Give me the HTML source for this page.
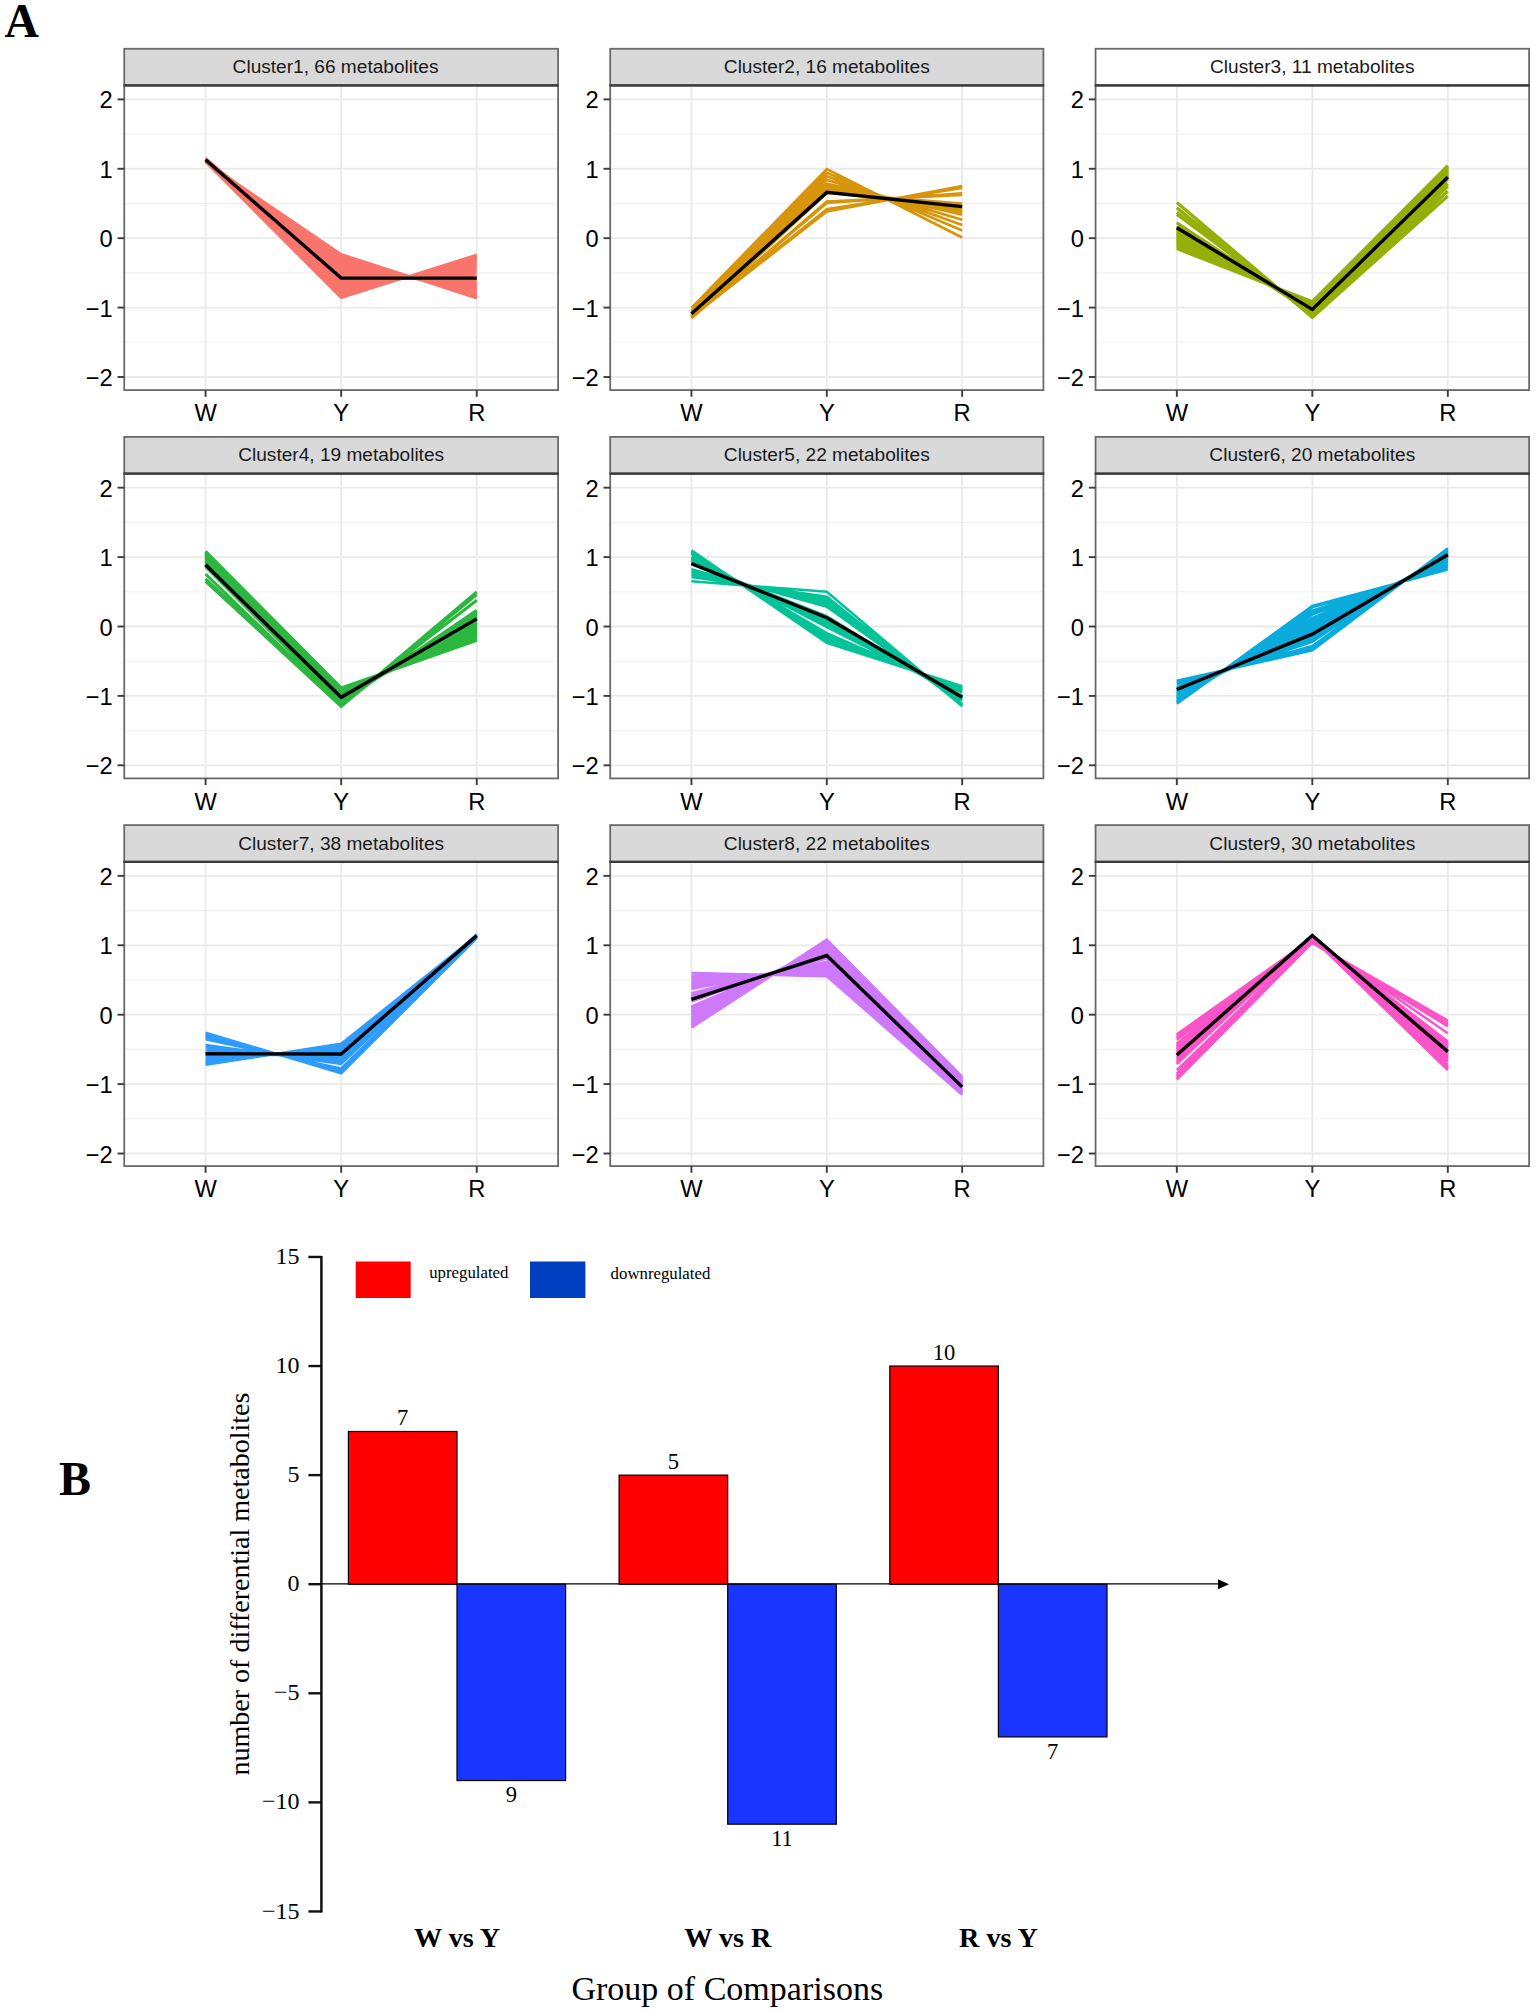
<!DOCTYPE html>
<html lang="en"><head><meta charset="utf-8"><title>Figure</title>
<style>html,body{margin:0;padding:0;background:#fff}svg{display:block}</style></head>
<body>
<svg width="1535" height="2014" viewBox="0 0 1535 2014">
<rect width="100%" height="100%" fill="#fff"/>
<g>
<line x1="124.24" x2="558.1" y1="342.3" y2="342.3" stroke="#f0f0f0" stroke-width="1.1"/>
<line x1="124.24" x2="558.1" y1="272.88" y2="272.88" stroke="#f0f0f0" stroke-width="1.1"/>
<line x1="124.24" x2="558.1" y1="203.48" y2="203.48" stroke="#f0f0f0" stroke-width="1.1"/>
<line x1="124.24" x2="558.1" y1="134.06" y2="134.06" stroke="#f0f0f0" stroke-width="1.1"/>
<line x1="124.24" x2="558.1" y1="377" y2="377" stroke="#eaeaea" stroke-width="1.8"/>
<line x1="124.24" x2="558.1" y1="307.59" y2="307.59" stroke="#eaeaea" stroke-width="1.8"/>
<line x1="124.24" x2="558.1" y1="238.18" y2="238.18" stroke="#eaeaea" stroke-width="1.8"/>
<line x1="124.24" x2="558.1" y1="168.77" y2="168.77" stroke="#eaeaea" stroke-width="1.8"/>
<line x1="124.24" x2="558.1" y1="99.36" y2="99.36" stroke="#eaeaea" stroke-width="1.8"/>
<line x1="205.59" x2="205.59" y1="85.47" y2="390.1" stroke="#eaeaea" stroke-width="1.8"/>
<line x1="341.17" x2="341.17" y1="85.47" y2="390.1" stroke="#eaeaea" stroke-width="1.8"/>
<line x1="476.75" x2="476.75" y1="85.47" y2="390.1" stroke="#eaeaea" stroke-width="1.8"/>
<path d="M205.59 161.95 L341.17 297.74 L476.75 254.84 M205.59 161.66 L341.17 297.08 L476.75 255.81 M205.59 161.37 L341.17 296.4 L476.75 256.77 M205.59 161.09 L341.17 295.72 L476.75 257.73 M205.59 160.83 L341.17 295.02 L476.75 258.69 M205.59 160.57 L341.17 294.32 L476.75 259.64 M205.59 160.33 L341.17 293.61 L476.75 260.59 M205.59 160.1 L341.17 292.9 L476.75 261.54 M205.59 159.89 L341.17 292.17 L476.75 262.49 M205.59 159.68 L341.17 291.43 L476.75 263.43 M205.59 159.49 L341.17 290.69 L476.75 264.36 M205.59 159.31 L341.17 289.94 L476.75 265.29 M205.59 159.14 L341.17 289.18 L476.75 266.22 M205.59 158.98 L341.17 288.42 L476.75 267.15 M205.59 158.83 L341.17 287.64 L476.75 268.07 M205.59 158.7 L341.17 286.86 L476.75 268.98 M205.59 158.41 L341.17 284.84 L476.75 271.29 M205.59 158.32 L341.17 284.03 L476.75 272.19 M205.59 158.25 L341.17 283.21 L476.75 273.08 M205.59 158.18 L341.17 282.39 L476.75 273.97 M205.59 158.13 L341.17 281.56 L476.75 274.86 M205.59 158.08 L341.17 280.72 L476.75 275.73 M205.59 158.05 L341.17 279.88 L476.75 276.61 M205.59 158.04 L341.17 279.03 L476.75 277.47 M205.59 158.03 L341.17 278.18 L476.75 278.33 M205.59 158.04 L341.17 277.32 L476.75 279.19 M205.59 158.06 L341.17 276.45 L476.75 280.03 M205.59 158.09 L341.17 275.57 L476.75 280.87 M205.59 158.13 L341.17 274.7 L476.75 281.71 M205.59 158.19 L341.17 273.81 L476.75 282.54 M205.59 158.26 L341.17 272.92 L476.75 283.36 M205.59 158.34 L341.17 272.03 L476.75 284.17 M205.59 158.43 L341.17 271.13 L476.75 284.98 M205.59 158.54 L341.17 270.22 L476.75 285.78 M205.59 158.65 L341.17 269.31 L476.75 286.57 M205.59 158.78 L341.17 268.4 L476.75 287.36 M205.59 158.93 L341.17 267.48 L476.75 288.14 M205.59 159.08 L341.17 266.55 L476.75 288.91 M205.59 159.24 L341.17 265.62 L476.75 289.67 M205.59 159.42 L341.17 264.69 L476.75 290.43 M205.59 159.61 L341.17 263.75 L476.75 291.17 M205.59 159.81 L341.17 262.81 L476.75 291.91 M205.59 160.38 L341.17 260.41 L476.75 293.75 M205.59 160.61 L341.17 259.52 L476.75 294.41 M205.59 160.84 L341.17 258.63 L476.75 295.06 M205.59 161.09 L341.17 257.74 L476.75 295.71 M205.59 161.34 L341.17 256.85 L476.75 296.34 M205.59 161.61 L341.17 255.96 L476.75 296.97 M205.59 161.89 L341.17 255.06 L476.75 297.59 M205.59 162.17 L341.17 254.16 L476.75 298.21" fill="none" stroke="#F9746B" stroke-width="2.5" stroke-linejoin="miter"/>
<path d="M205.59 159.75 L341.17 278.09 L476.75 278.09" fill="none" stroke="#000" stroke-width="3.4" stroke-linejoin="miter"/>
<rect x="124.24" y="48.77" width="433.86" height="36.7" fill="#d9d9d9" stroke="#6a6a6a" stroke-width="1.8"/>
<rect x="124.24" y="85.47" width="433.86" height="304.63" fill="none" stroke="#6a6a6a" stroke-width="1.8"/>
<line x1="123.54" x2="558.8" y1="85.47" y2="85.47" stroke="#3a3a3a" stroke-width="2.2"/>
<text x="335.57" y="73.27" text-anchor="middle" font-family="Liberation Sans, sans-serif" font-size="19.1" fill="#1a1a1a">Cluster1, 66 metabolites</text>
<line x1="117.54" x2="124.24" y1="377" y2="377" stroke="#3c3c3c" stroke-width="1.9"/>
<text x="112.74" y="386" text-anchor="end" font-family="Liberation Sans, sans-serif" font-size="23.7" fill="#000">−2</text>
<line x1="117.54" x2="124.24" y1="307.59" y2="307.59" stroke="#3c3c3c" stroke-width="1.9"/>
<text x="112.74" y="316.59" text-anchor="end" font-family="Liberation Sans, sans-serif" font-size="23.7" fill="#000">−1</text>
<line x1="117.54" x2="124.24" y1="238.18" y2="238.18" stroke="#3c3c3c" stroke-width="1.9"/>
<text x="112.74" y="247.18" text-anchor="end" font-family="Liberation Sans, sans-serif" font-size="23.7" fill="#000">0</text>
<line x1="117.54" x2="124.24" y1="168.77" y2="168.77" stroke="#3c3c3c" stroke-width="1.9"/>
<text x="112.74" y="177.77" text-anchor="end" font-family="Liberation Sans, sans-serif" font-size="23.7" fill="#000">1</text>
<line x1="117.54" x2="124.24" y1="99.36" y2="99.36" stroke="#3c3c3c" stroke-width="1.9"/>
<text x="112.74" y="108.36" text-anchor="end" font-family="Liberation Sans, sans-serif" font-size="23.7" fill="#000">2</text>
<line x1="205.59" x2="205.59" y1="390.1" y2="396.8" stroke="#3c3c3c" stroke-width="1.9"/>
<text x="205.59" y="421.3" text-anchor="middle" font-family="Liberation Sans, sans-serif" font-size="23.7" fill="#000">W</text>
<line x1="341.17" x2="341.17" y1="390.1" y2="396.8" stroke="#3c3c3c" stroke-width="1.9"/>
<text x="341.17" y="421.3" text-anchor="middle" font-family="Liberation Sans, sans-serif" font-size="23.7" fill="#000">Y</text>
<line x1="476.75" x2="476.75" y1="390.1" y2="396.8" stroke="#3c3c3c" stroke-width="1.9"/>
<text x="476.75" y="421.3" text-anchor="middle" font-family="Liberation Sans, sans-serif" font-size="23.7" fill="#000">R</text>
</g>
<g>
<line x1="610.2" x2="1043.4" y1="342.3" y2="342.3" stroke="#f0f0f0" stroke-width="1.1"/>
<line x1="610.2" x2="1043.4" y1="272.88" y2="272.88" stroke="#f0f0f0" stroke-width="1.1"/>
<line x1="610.2" x2="1043.4" y1="203.48" y2="203.48" stroke="#f0f0f0" stroke-width="1.1"/>
<line x1="610.2" x2="1043.4" y1="134.06" y2="134.06" stroke="#f0f0f0" stroke-width="1.1"/>
<line x1="610.2" x2="1043.4" y1="377" y2="377" stroke="#eaeaea" stroke-width="1.8"/>
<line x1="610.2" x2="1043.4" y1="307.59" y2="307.59" stroke="#eaeaea" stroke-width="1.8"/>
<line x1="610.2" x2="1043.4" y1="238.18" y2="238.18" stroke="#eaeaea" stroke-width="1.8"/>
<line x1="610.2" x2="1043.4" y1="168.77" y2="168.77" stroke="#eaeaea" stroke-width="1.8"/>
<line x1="610.2" x2="1043.4" y1="99.36" y2="99.36" stroke="#eaeaea" stroke-width="1.8"/>
<line x1="691.43" x2="691.43" y1="85.47" y2="390.1" stroke="#eaeaea" stroke-width="1.8"/>
<line x1="826.8" x2="826.8" y1="85.47" y2="390.1" stroke="#eaeaea" stroke-width="1.8"/>
<line x1="962.17" x2="962.17" y1="85.47" y2="390.1" stroke="#eaeaea" stroke-width="1.8"/>
<path d="M691.43 316.98 L826.8 211.43 L962.17 186.12 M691.43 317.36 L826.8 209.32 L962.17 187.86 M691.43 318.14 L826.8 202.99 L962.17 193.41 M691.43 318.23 L826.8 201.51 L962.17 194.8 M691.43 318.1 L826.8 192.97 L962.17 203.48 M691.43 317.98 L826.8 191.85 L962.17 204.71 M691.43 317.85 L826.8 190.75 L962.17 205.94 M691.43 317.69 L826.8 189.67 L962.17 207.18 M691.43 317.51 L826.8 188.62 L962.17 208.41 M691.43 317.31 L826.8 187.59 L962.17 209.64 M691.43 317.09 L826.8 186.57 L962.17 210.88 M691.43 316.85 L826.8 185.58 L962.17 212.11 M691.43 316.59 L826.8 184.6 L962.17 213.35 M691.43 316.31 L826.8 183.65 L962.17 214.58 M691.43 314.95 L826.8 179.87 L962.17 219.72 M691.43 313.26 L826.8 176.35 L962.17 224.92 M691.43 311.06 L826.8 172.86 L962.17 230.61 M691.43 307.93 L826.8 169.12 L962.17 237.49" fill="none" stroke="#D6950A" stroke-width="2.7" stroke-linejoin="miter"/>
<path d="M691.43 313.84 L826.8 192.37 L962.17 206.67" fill="none" stroke="#000" stroke-width="3.4" stroke-linejoin="miter"/>
<rect x="610.2" y="48.77" width="433.2" height="36.7" fill="#d9d9d9" stroke="#6a6a6a" stroke-width="1.8"/>
<rect x="610.2" y="85.47" width="433.2" height="304.63" fill="none" stroke="#6a6a6a" stroke-width="1.8"/>
<line x1="609.5" x2="1044.1" y1="85.47" y2="85.47" stroke="#3a3a3a" stroke-width="2.2"/>
<text x="826.8" y="73.27" text-anchor="middle" font-family="Liberation Sans, sans-serif" font-size="19.1" fill="#1a1a1a">Cluster2, 16 metabolites</text>
<line x1="603.5" x2="610.2" y1="377" y2="377" stroke="#3c3c3c" stroke-width="1.9"/>
<text x="598.7" y="386" text-anchor="end" font-family="Liberation Sans, sans-serif" font-size="23.7" fill="#000">−2</text>
<line x1="603.5" x2="610.2" y1="307.59" y2="307.59" stroke="#3c3c3c" stroke-width="1.9"/>
<text x="598.7" y="316.59" text-anchor="end" font-family="Liberation Sans, sans-serif" font-size="23.7" fill="#000">−1</text>
<line x1="603.5" x2="610.2" y1="238.18" y2="238.18" stroke="#3c3c3c" stroke-width="1.9"/>
<text x="598.7" y="247.18" text-anchor="end" font-family="Liberation Sans, sans-serif" font-size="23.7" fill="#000">0</text>
<line x1="603.5" x2="610.2" y1="168.77" y2="168.77" stroke="#3c3c3c" stroke-width="1.9"/>
<text x="598.7" y="177.77" text-anchor="end" font-family="Liberation Sans, sans-serif" font-size="23.7" fill="#000">1</text>
<line x1="603.5" x2="610.2" y1="99.36" y2="99.36" stroke="#3c3c3c" stroke-width="1.9"/>
<text x="598.7" y="108.36" text-anchor="end" font-family="Liberation Sans, sans-serif" font-size="23.7" fill="#000">2</text>
<line x1="691.43" x2="691.43" y1="390.1" y2="396.8" stroke="#3c3c3c" stroke-width="1.9"/>
<text x="691.43" y="421.3" text-anchor="middle" font-family="Liberation Sans, sans-serif" font-size="23.7" fill="#000">W</text>
<line x1="826.8" x2="826.8" y1="390.1" y2="396.8" stroke="#3c3c3c" stroke-width="1.9"/>
<text x="826.8" y="421.3" text-anchor="middle" font-family="Liberation Sans, sans-serif" font-size="23.7" fill="#000">Y</text>
<line x1="962.17" x2="962.17" y1="390.1" y2="396.8" stroke="#3c3c3c" stroke-width="1.9"/>
<text x="962.17" y="421.3" text-anchor="middle" font-family="Liberation Sans, sans-serif" font-size="23.7" fill="#000">R</text>
</g>
<g>
<line x1="1095.55" x2="1529.1" y1="342.3" y2="342.3" stroke="#f0f0f0" stroke-width="1.1"/>
<line x1="1095.55" x2="1529.1" y1="272.88" y2="272.88" stroke="#f0f0f0" stroke-width="1.1"/>
<line x1="1095.55" x2="1529.1" y1="203.48" y2="203.48" stroke="#f0f0f0" stroke-width="1.1"/>
<line x1="1095.55" x2="1529.1" y1="134.06" y2="134.06" stroke="#f0f0f0" stroke-width="1.1"/>
<line x1="1095.55" x2="1529.1" y1="377" y2="377" stroke="#eaeaea" stroke-width="1.8"/>
<line x1="1095.55" x2="1529.1" y1="307.59" y2="307.59" stroke="#eaeaea" stroke-width="1.8"/>
<line x1="1095.55" x2="1529.1" y1="238.18" y2="238.18" stroke="#eaeaea" stroke-width="1.8"/>
<line x1="1095.55" x2="1529.1" y1="168.77" y2="168.77" stroke="#eaeaea" stroke-width="1.8"/>
<line x1="1095.55" x2="1529.1" y1="99.36" y2="99.36" stroke="#eaeaea" stroke-width="1.8"/>
<line x1="1176.84" x2="1176.84" y1="85.47" y2="390.1" stroke="#eaeaea" stroke-width="1.8"/>
<line x1="1312.33" x2="1312.33" y1="85.47" y2="390.1" stroke="#eaeaea" stroke-width="1.8"/>
<line x1="1447.81" x2="1447.81" y1="85.47" y2="390.1" stroke="#eaeaea" stroke-width="1.8"/>
<path d="M1176.84 202.43 L1312.33 317.31 L1447.81 195.98 M1176.84 207.64 L1312.33 316.96 L1447.81 190.98 M1176.84 212.36 L1312.33 315.92 L1447.81 186.12 M1176.84 214.23 L1312.33 315.23 L1447.81 183.69 M1176.84 222.77 L1312.33 312.8 L1447.81 179.18 M1176.84 226.38 L1312.33 312.45 L1447.81 177.79 M1176.84 227.35 L1312.33 311.98 L1447.81 177.27 M1176.84 228.31 L1312.33 311.51 L1447.81 176.74 M1176.84 229.28 L1312.33 311.05 L1447.81 176.21 M1176.84 230.24 L1312.33 310.58 L1447.81 175.68 M1176.84 231.21 L1312.33 310.11 L1447.81 175.15 M1176.84 232.17 L1312.33 309.64 L1447.81 174.62 M1176.84 233.14 L1312.33 309.17 L1447.81 174.1 M1176.84 234.11 L1312.33 308.71 L1447.81 173.57 M1176.84 235.07 L1312.33 308.24 L1447.81 173.04 M1176.84 236.04 L1312.33 307.77 L1447.81 172.51 M1176.84 237 L1312.33 307.3 L1447.81 171.98 M1176.84 237.97 L1312.33 306.84 L1447.81 171.46 M1176.84 238.93 L1312.33 306.37 L1447.81 170.93 M1176.84 239.9 L1312.33 305.9 L1447.81 170.4 M1176.84 240.87 L1312.33 305.43 L1447.81 169.87 M1176.84 241.83 L1312.33 304.96 L1447.81 169.34 M1176.84 242.8 L1312.33 304.5 L1447.81 168.82 M1176.84 243.76 L1312.33 304.03 L1447.81 168.29 M1176.84 244.73 L1312.33 303.56 L1447.81 167.76 M1176.84 245.69 L1312.33 303.09 L1447.81 167.23 M1176.84 246.66 L1312.33 302.63 L1447.81 166.7 M1176.84 247.63 L1312.33 302.16 L1447.81 166.17 M1176.84 248.59 L1312.33 301.69 L1447.81 165.65" fill="none" stroke="#95AE08" stroke-width="3.2" stroke-linejoin="miter"/>
<path d="M1176.84 227.77 L1312.33 309.39 L1447.81 177.1" fill="none" stroke="#000" stroke-width="3.4" stroke-linejoin="miter"/>
<rect x="1095.55" y="48.77" width="433.55" height="36.7" fill="#fff" stroke="#6a6a6a" stroke-width="1.8"/>
<rect x="1095.55" y="85.47" width="433.55" height="304.63" fill="none" stroke="#6a6a6a" stroke-width="1.8"/>
<line x1="1094.85" x2="1529.8" y1="85.47" y2="85.47" stroke="#3a3a3a" stroke-width="2.2"/>
<text x="1312.32" y="73.27" text-anchor="middle" font-family="Liberation Sans, sans-serif" font-size="19.1" fill="#1a1a1a">Cluster3, 11 metabolites</text>
<line x1="1088.85" x2="1095.55" y1="377" y2="377" stroke="#3c3c3c" stroke-width="1.9"/>
<text x="1084.05" y="386" text-anchor="end" font-family="Liberation Sans, sans-serif" font-size="23.7" fill="#000">−2</text>
<line x1="1088.85" x2="1095.55" y1="307.59" y2="307.59" stroke="#3c3c3c" stroke-width="1.9"/>
<text x="1084.05" y="316.59" text-anchor="end" font-family="Liberation Sans, sans-serif" font-size="23.7" fill="#000">−1</text>
<line x1="1088.85" x2="1095.55" y1="238.18" y2="238.18" stroke="#3c3c3c" stroke-width="1.9"/>
<text x="1084.05" y="247.18" text-anchor="end" font-family="Liberation Sans, sans-serif" font-size="23.7" fill="#000">0</text>
<line x1="1088.85" x2="1095.55" y1="168.77" y2="168.77" stroke="#3c3c3c" stroke-width="1.9"/>
<text x="1084.05" y="177.77" text-anchor="end" font-family="Liberation Sans, sans-serif" font-size="23.7" fill="#000">1</text>
<line x1="1088.85" x2="1095.55" y1="99.36" y2="99.36" stroke="#3c3c3c" stroke-width="1.9"/>
<text x="1084.05" y="108.36" text-anchor="end" font-family="Liberation Sans, sans-serif" font-size="23.7" fill="#000">2</text>
<line x1="1176.84" x2="1176.84" y1="390.1" y2="396.8" stroke="#3c3c3c" stroke-width="1.9"/>
<text x="1176.84" y="421.3" text-anchor="middle" font-family="Liberation Sans, sans-serif" font-size="23.7" fill="#000">W</text>
<line x1="1312.33" x2="1312.33" y1="390.1" y2="396.8" stroke="#3c3c3c" stroke-width="1.9"/>
<text x="1312.33" y="421.3" text-anchor="middle" font-family="Liberation Sans, sans-serif" font-size="23.7" fill="#000">Y</text>
<line x1="1447.81" x2="1447.81" y1="390.1" y2="396.8" stroke="#3c3c3c" stroke-width="1.9"/>
<text x="1447.81" y="421.3" text-anchor="middle" font-family="Liberation Sans, sans-serif" font-size="23.7" fill="#000">R</text>
</g>
<g>
<line x1="124.24" x2="558.1" y1="730.62" y2="730.62" stroke="#f0f0f0" stroke-width="1.1"/>
<line x1="124.24" x2="558.1" y1="661.21" y2="661.21" stroke="#f0f0f0" stroke-width="1.1"/>
<line x1="124.24" x2="558.1" y1="591.79" y2="591.79" stroke="#f0f0f0" stroke-width="1.1"/>
<line x1="124.24" x2="558.1" y1="522.38" y2="522.38" stroke="#f0f0f0" stroke-width="1.1"/>
<line x1="124.24" x2="558.1" y1="765.32" y2="765.32" stroke="#eaeaea" stroke-width="1.8"/>
<line x1="124.24" x2="558.1" y1="695.91" y2="695.91" stroke="#eaeaea" stroke-width="1.8"/>
<line x1="124.24" x2="558.1" y1="626.5" y2="626.5" stroke="#eaeaea" stroke-width="1.8"/>
<line x1="124.24" x2="558.1" y1="557.09" y2="557.09" stroke="#eaeaea" stroke-width="1.8"/>
<line x1="124.24" x2="558.1" y1="487.68" y2="487.68" stroke="#eaeaea" stroke-width="1.8"/>
<line x1="205.59" x2="205.59" y1="473.6" y2="778.4" stroke="#eaeaea" stroke-width="1.8"/>
<line x1="341.17" x2="341.17" y1="473.6" y2="778.4" stroke="#eaeaea" stroke-width="1.8"/>
<line x1="476.75" x2="476.75" y1="473.6" y2="778.4" stroke="#eaeaea" stroke-width="1.8"/>
<path d="M205.59 581.29 L341.17 706.42 L476.75 591.79 M205.59 578.8 L341.17 706.13 L476.75 594.57 M205.59 574.03 L341.17 705.2 L476.75 600.26 M205.59 566.7 L341.17 702.61 L476.75 610.19 M205.59 566.05 L341.17 702.3 L476.75 611.15 M205.59 565.41 L341.17 701.98 L476.75 612.11 M205.59 564.78 L341.17 701.64 L476.75 613.08 M205.59 564.16 L341.17 701.29 L476.75 614.04 M205.59 563.55 L341.17 700.94 L476.75 615.01 M205.59 562.95 L341.17 700.57 L476.75 615.98 M205.59 562.36 L341.17 700.19 L476.75 616.96 M205.59 561.77 L341.17 699.8 L476.75 617.93 M205.59 561.2 L341.17 699.4 L476.75 618.9 M205.59 560.64 L341.17 698.98 L476.75 619.88 M205.59 560.08 L341.17 698.56 L476.75 620.86 M205.59 559.54 L341.17 698.12 L476.75 621.84 M205.59 559.01 L341.17 697.68 L476.75 622.81 M205.59 558.48 L341.17 697.22 L476.75 623.79 M205.59 557.97 L341.17 696.76 L476.75 624.77 M205.59 557.47 L341.17 696.28 L476.75 625.75 M205.59 556.97 L341.17 695.79 L476.75 626.73 M205.59 556.49 L341.17 695.3 L476.75 627.71 M205.59 556.02 L341.17 694.79 L476.75 628.69 M205.59 555.56 L341.17 694.27 L476.75 629.67 M205.59 555.11 L341.17 693.74 L476.75 630.65 M205.59 554.67 L341.17 693.2 L476.75 631.63 M205.59 554.24 L341.17 692.65 L476.75 632.61 M205.59 553.82 L341.17 692.1 L476.75 633.58 M205.59 553.41 L341.17 691.53 L476.75 634.56 M205.59 553.02 L341.17 690.95 L476.75 635.53 M205.59 552.63 L341.17 690.36 L476.75 636.51 M205.59 552.26 L341.17 689.77 L476.75 637.48 M205.59 551.89 L341.17 689.16 L476.75 638.45 M205.59 551.54 L341.17 688.54 L476.75 639.42 M205.59 551.2 L341.17 687.92 L476.75 640.38" fill="none" stroke="#2CB840" stroke-width="3.0" stroke-linejoin="miter"/>
<path d="M205.59 564.73 L341.17 697.3 L476.75 618.86" fill="none" stroke="#000" stroke-width="3.4" stroke-linejoin="miter"/>
<rect x="124.24" y="436.9" width="433.86" height="36.7" fill="#d9d9d9" stroke="#6a6a6a" stroke-width="1.8"/>
<rect x="124.24" y="473.6" width="433.86" height="304.8" fill="none" stroke="#6a6a6a" stroke-width="1.8"/>
<line x1="123.54" x2="558.8" y1="473.6" y2="473.6" stroke="#3a3a3a" stroke-width="2.2"/>
<text x="341.17" y="461.4" text-anchor="middle" font-family="Liberation Sans, sans-serif" font-size="19.1" fill="#1a1a1a">Cluster4, 19 metabolites</text>
<line x1="117.54" x2="124.24" y1="765.32" y2="765.32" stroke="#3c3c3c" stroke-width="1.9"/>
<text x="112.74" y="774.32" text-anchor="end" font-family="Liberation Sans, sans-serif" font-size="23.7" fill="#000">−2</text>
<line x1="117.54" x2="124.24" y1="695.91" y2="695.91" stroke="#3c3c3c" stroke-width="1.9"/>
<text x="112.74" y="704.91" text-anchor="end" font-family="Liberation Sans, sans-serif" font-size="23.7" fill="#000">−1</text>
<line x1="117.54" x2="124.24" y1="626.5" y2="626.5" stroke="#3c3c3c" stroke-width="1.9"/>
<text x="112.74" y="635.5" text-anchor="end" font-family="Liberation Sans, sans-serif" font-size="23.7" fill="#000">0</text>
<line x1="117.54" x2="124.24" y1="557.09" y2="557.09" stroke="#3c3c3c" stroke-width="1.9"/>
<text x="112.74" y="566.09" text-anchor="end" font-family="Liberation Sans, sans-serif" font-size="23.7" fill="#000">1</text>
<line x1="117.54" x2="124.24" y1="487.68" y2="487.68" stroke="#3c3c3c" stroke-width="1.9"/>
<text x="112.74" y="496.68" text-anchor="end" font-family="Liberation Sans, sans-serif" font-size="23.7" fill="#000">2</text>
<line x1="205.59" x2="205.59" y1="778.4" y2="785.1" stroke="#3c3c3c" stroke-width="1.9"/>
<text x="205.59" y="809.6" text-anchor="middle" font-family="Liberation Sans, sans-serif" font-size="23.7" fill="#000">W</text>
<line x1="341.17" x2="341.17" y1="778.4" y2="785.1" stroke="#3c3c3c" stroke-width="1.9"/>
<text x="341.17" y="809.6" text-anchor="middle" font-family="Liberation Sans, sans-serif" font-size="23.7" fill="#000">Y</text>
<line x1="476.75" x2="476.75" y1="778.4" y2="785.1" stroke="#3c3c3c" stroke-width="1.9"/>
<text x="476.75" y="809.6" text-anchor="middle" font-family="Liberation Sans, sans-serif" font-size="23.7" fill="#000">R</text>
</g>
<g>
<line x1="610.2" x2="1043.4" y1="730.62" y2="730.62" stroke="#f0f0f0" stroke-width="1.1"/>
<line x1="610.2" x2="1043.4" y1="661.21" y2="661.21" stroke="#f0f0f0" stroke-width="1.1"/>
<line x1="610.2" x2="1043.4" y1="591.79" y2="591.79" stroke="#f0f0f0" stroke-width="1.1"/>
<line x1="610.2" x2="1043.4" y1="522.38" y2="522.38" stroke="#f0f0f0" stroke-width="1.1"/>
<line x1="610.2" x2="1043.4" y1="765.32" y2="765.32" stroke="#eaeaea" stroke-width="1.8"/>
<line x1="610.2" x2="1043.4" y1="695.91" y2="695.91" stroke="#eaeaea" stroke-width="1.8"/>
<line x1="610.2" x2="1043.4" y1="626.5" y2="626.5" stroke="#eaeaea" stroke-width="1.8"/>
<line x1="610.2" x2="1043.4" y1="557.09" y2="557.09" stroke="#eaeaea" stroke-width="1.8"/>
<line x1="610.2" x2="1043.4" y1="487.68" y2="487.68" stroke="#eaeaea" stroke-width="1.8"/>
<line x1="691.43" x2="691.43" y1="473.6" y2="778.4" stroke="#eaeaea" stroke-width="1.8"/>
<line x1="826.8" x2="826.8" y1="473.6" y2="778.4" stroke="#eaeaea" stroke-width="1.8"/>
<line x1="962.17" x2="962.17" y1="473.6" y2="778.4" stroke="#eaeaea" stroke-width="1.8"/>
<path d="M691.43 581.29 L826.8 591.79 L962.17 706.42 M691.43 569.13 L826.8 606.72 L962.17 703.65 M691.43 569.81 L826.8 605.79 L962.17 703.91 M691.43 570.49 L826.8 604.86 L962.17 704.15 M691.43 571.18 L826.8 603.93 L962.17 704.39 M691.43 571.88 L826.8 603.01 L962.17 704.61 M691.43 572.59 L826.8 602.09 L962.17 704.82 M691.43 573.31 L826.8 601.17 L962.17 705.02 M691.43 574.03 L826.8 600.26 L962.17 705.2 M691.43 574.77 L826.8 599.35 L962.17 705.38 M691.43 575.5 L826.8 598.45 L962.17 705.55 M691.43 576.25 L826.8 597.55 L962.17 705.7 M691.43 577.01 L826.8 596.65 L962.17 705.84 M691.43 556.75 L826.8 627.19 L962.17 695.56 M691.43 557.25 L826.8 626.18 L962.17 696.07 M691.43 557.76 L826.8 625.17 L962.17 696.57 M691.43 558.29 L826.8 624.16 L962.17 697.05 M691.43 558.83 L826.8 623.15 L962.17 697.53 M691.43 559.38 L826.8 622.13 L962.17 697.99 M691.43 559.93 L826.8 621.12 L962.17 698.44 M691.43 560.5 L826.8 620.11 L962.17 698.88 M691.43 561.08 L826.8 619.11 L962.17 699.31 M691.43 561.67 L826.8 618.1 L962.17 699.73 M691.43 562.27 L826.8 617.09 L962.17 700.13 M691.43 562.88 L826.8 616.09 L962.17 700.53 M691.43 550.39 L826.8 642.81 L962.17 686.3 M691.43 550.7 L826.8 641.85 L962.17 686.95 M691.43 551.03 L826.8 640.88 L962.17 687.59 M691.43 551.36 L826.8 639.92 L962.17 688.22 M691.43 551.71 L826.8 638.95 L962.17 688.85 M691.43 552.07 L826.8 637.97 L962.17 689.46 M691.43 552.44 L826.8 637 L962.17 690.06 M691.43 552.82 L826.8 636.03 L962.17 690.65 M691.43 553.21 L826.8 635.05 L962.17 691.24 M691.43 553.61 L826.8 634.07 L962.17 691.81 M691.43 554.03 L826.8 633.09 L962.17 692.38" fill="none" stroke="#04C398" stroke-width="2.5" stroke-linejoin="miter"/>
<path d="M691.43 563.55 L826.8 617.68 L962.17 697.3" fill="none" stroke="#000" stroke-width="3.4" stroke-linejoin="miter"/>
<rect x="610.2" y="436.9" width="433.2" height="36.7" fill="#d9d9d9" stroke="#6a6a6a" stroke-width="1.8"/>
<rect x="610.2" y="473.6" width="433.2" height="304.8" fill="none" stroke="#6a6a6a" stroke-width="1.8"/>
<line x1="609.5" x2="1044.1" y1="473.6" y2="473.6" stroke="#3a3a3a" stroke-width="2.2"/>
<text x="826.8" y="461.4" text-anchor="middle" font-family="Liberation Sans, sans-serif" font-size="19.1" fill="#1a1a1a">Cluster5, 22 metabolites</text>
<line x1="603.5" x2="610.2" y1="765.32" y2="765.32" stroke="#3c3c3c" stroke-width="1.9"/>
<text x="598.7" y="774.32" text-anchor="end" font-family="Liberation Sans, sans-serif" font-size="23.7" fill="#000">−2</text>
<line x1="603.5" x2="610.2" y1="695.91" y2="695.91" stroke="#3c3c3c" stroke-width="1.9"/>
<text x="598.7" y="704.91" text-anchor="end" font-family="Liberation Sans, sans-serif" font-size="23.7" fill="#000">−1</text>
<line x1="603.5" x2="610.2" y1="626.5" y2="626.5" stroke="#3c3c3c" stroke-width="1.9"/>
<text x="598.7" y="635.5" text-anchor="end" font-family="Liberation Sans, sans-serif" font-size="23.7" fill="#000">0</text>
<line x1="603.5" x2="610.2" y1="557.09" y2="557.09" stroke="#3c3c3c" stroke-width="1.9"/>
<text x="598.7" y="566.09" text-anchor="end" font-family="Liberation Sans, sans-serif" font-size="23.7" fill="#000">1</text>
<line x1="603.5" x2="610.2" y1="487.68" y2="487.68" stroke="#3c3c3c" stroke-width="1.9"/>
<text x="598.7" y="496.68" text-anchor="end" font-family="Liberation Sans, sans-serif" font-size="23.7" fill="#000">2</text>
<line x1="691.43" x2="691.43" y1="778.4" y2="785.1" stroke="#3c3c3c" stroke-width="1.9"/>
<text x="691.43" y="809.6" text-anchor="middle" font-family="Liberation Sans, sans-serif" font-size="23.7" fill="#000">W</text>
<line x1="826.8" x2="826.8" y1="778.4" y2="785.1" stroke="#3c3c3c" stroke-width="1.9"/>
<text x="826.8" y="809.6" text-anchor="middle" font-family="Liberation Sans, sans-serif" font-size="23.7" fill="#000">Y</text>
<line x1="962.17" x2="962.17" y1="778.4" y2="785.1" stroke="#3c3c3c" stroke-width="1.9"/>
<text x="962.17" y="809.6" text-anchor="middle" font-family="Liberation Sans, sans-serif" font-size="23.7" fill="#000">R</text>
</g>
<g>
<line x1="1095.55" x2="1529.1" y1="730.62" y2="730.62" stroke="#f0f0f0" stroke-width="1.1"/>
<line x1="1095.55" x2="1529.1" y1="661.21" y2="661.21" stroke="#f0f0f0" stroke-width="1.1"/>
<line x1="1095.55" x2="1529.1" y1="591.79" y2="591.79" stroke="#f0f0f0" stroke-width="1.1"/>
<line x1="1095.55" x2="1529.1" y1="522.38" y2="522.38" stroke="#f0f0f0" stroke-width="1.1"/>
<line x1="1095.55" x2="1529.1" y1="765.32" y2="765.32" stroke="#eaeaea" stroke-width="1.8"/>
<line x1="1095.55" x2="1529.1" y1="695.91" y2="695.91" stroke="#eaeaea" stroke-width="1.8"/>
<line x1="1095.55" x2="1529.1" y1="626.5" y2="626.5" stroke="#eaeaea" stroke-width="1.8"/>
<line x1="1095.55" x2="1529.1" y1="557.09" y2="557.09" stroke="#eaeaea" stroke-width="1.8"/>
<line x1="1095.55" x2="1529.1" y1="487.68" y2="487.68" stroke="#eaeaea" stroke-width="1.8"/>
<line x1="1176.84" x2="1176.84" y1="473.6" y2="778.4" stroke="#eaeaea" stroke-width="1.8"/>
<line x1="1312.33" x2="1312.33" y1="473.6" y2="778.4" stroke="#eaeaea" stroke-width="1.8"/>
<line x1="1447.81" x2="1447.81" y1="473.6" y2="778.4" stroke="#eaeaea" stroke-width="1.8"/>
<path d="M1176.84 703.84 L1312.33 606.02 L1447.81 569.63 M1176.84 703.46 L1312.33 607.41 L1447.81 568.63 M1176.84 702.5 L1312.33 610.54 L1447.81 566.46 M1176.84 702.16 L1312.33 611.57 L1447.81 565.77 M1176.84 701.8 L1312.33 612.61 L1447.81 565.08 M1176.84 701.44 L1312.33 613.66 L1447.81 564.41 M1176.84 701.05 L1312.33 614.7 L1447.81 563.75 M1176.84 699.84 L1312.33 617.82 L1447.81 561.84 M1176.84 699.45 L1312.33 618.78 L1447.81 561.27 M1176.84 699.04 L1312.33 619.74 L1447.81 560.72 M1176.84 698.63 L1312.33 620.7 L1447.81 560.17 M1176.84 698.2 L1312.33 621.66 L1447.81 559.64 M1176.84 697.77 L1312.33 622.62 L1447.81 559.11 M1176.84 697.32 L1312.33 623.58 L1447.81 558.6 M1176.84 696.87 L1312.33 624.54 L1447.81 558.09 M1176.84 696.4 L1312.33 625.51 L1447.81 557.59 M1176.84 695.93 L1312.33 626.47 L1447.81 557.11 M1176.84 695.44 L1312.33 627.43 L1447.81 556.63 M1176.84 694.94 L1312.33 628.39 L1447.81 556.16 M1176.84 694.44 L1312.33 629.35 L1447.81 555.71 M1176.84 693.92 L1312.33 630.32 L1447.81 555.26 M1176.84 693.4 L1312.33 631.28 L1447.81 554.83 M1176.84 692.86 L1312.33 632.24 L1447.81 554.4 M1176.84 692.32 L1312.33 633.2 L1447.81 553.98 M1176.84 691.77 L1312.33 634.15 L1447.81 553.58 M1176.84 691.2 L1312.33 635.11 L1447.81 553.19 M1176.84 690.63 L1312.33 636.07 L1447.81 552.8 M1176.84 690.05 L1312.33 637.02 L1447.81 552.43 M1176.84 689.46 L1312.33 637.98 L1447.81 552.07 M1176.84 688.86 L1312.33 638.93 L1447.81 551.72 M1176.84 688.25 L1312.33 639.88 L1447.81 551.38 M1176.84 687.63 L1312.33 640.82 L1447.81 551.05 M1176.84 687 L1312.33 641.77 L1447.81 550.73 M1176.84 684.12 L1312.33 645.93 L1447.81 549.44 M1176.84 683.47 L1312.33 646.84 L1447.81 549.19 M1176.84 682.8 L1312.33 647.75 L1447.81 548.95 M1176.84 682.13 L1312.33 648.65 L1447.81 548.72 M1176.84 681.45 L1312.33 649.55 L1447.81 548.5 M1176.84 680.77 L1312.33 650.45 L1447.81 548.29" fill="none" stroke="#08ABDC" stroke-width="2.5" stroke-linejoin="miter"/>
<path d="M1176.84 689.45 L1312.33 634.14 L1447.81 554.73" fill="none" stroke="#000" stroke-width="3.4" stroke-linejoin="miter"/>
<rect x="1095.55" y="436.9" width="433.55" height="36.7" fill="#d9d9d9" stroke="#6a6a6a" stroke-width="1.8"/>
<rect x="1095.55" y="473.6" width="433.55" height="304.8" fill="none" stroke="#6a6a6a" stroke-width="1.8"/>
<line x1="1094.85" x2="1529.8" y1="473.6" y2="473.6" stroke="#3a3a3a" stroke-width="2.2"/>
<text x="1312.32" y="461.4" text-anchor="middle" font-family="Liberation Sans, sans-serif" font-size="19.1" fill="#1a1a1a">Cluster6, 20 metabolites</text>
<line x1="1088.85" x2="1095.55" y1="765.32" y2="765.32" stroke="#3c3c3c" stroke-width="1.9"/>
<text x="1084.05" y="774.32" text-anchor="end" font-family="Liberation Sans, sans-serif" font-size="23.7" fill="#000">−2</text>
<line x1="1088.85" x2="1095.55" y1="695.91" y2="695.91" stroke="#3c3c3c" stroke-width="1.9"/>
<text x="1084.05" y="704.91" text-anchor="end" font-family="Liberation Sans, sans-serif" font-size="23.7" fill="#000">−1</text>
<line x1="1088.85" x2="1095.55" y1="626.5" y2="626.5" stroke="#3c3c3c" stroke-width="1.9"/>
<text x="1084.05" y="635.5" text-anchor="end" font-family="Liberation Sans, sans-serif" font-size="23.7" fill="#000">0</text>
<line x1="1088.85" x2="1095.55" y1="557.09" y2="557.09" stroke="#3c3c3c" stroke-width="1.9"/>
<text x="1084.05" y="566.09" text-anchor="end" font-family="Liberation Sans, sans-serif" font-size="23.7" fill="#000">1</text>
<line x1="1088.85" x2="1095.55" y1="487.68" y2="487.68" stroke="#3c3c3c" stroke-width="1.9"/>
<text x="1084.05" y="496.68" text-anchor="end" font-family="Liberation Sans, sans-serif" font-size="23.7" fill="#000">2</text>
<line x1="1176.84" x2="1176.84" y1="778.4" y2="785.1" stroke="#3c3c3c" stroke-width="1.9"/>
<text x="1176.84" y="809.6" text-anchor="middle" font-family="Liberation Sans, sans-serif" font-size="23.7" fill="#000">W</text>
<line x1="1312.33" x2="1312.33" y1="778.4" y2="785.1" stroke="#3c3c3c" stroke-width="1.9"/>
<text x="1312.33" y="809.6" text-anchor="middle" font-family="Liberation Sans, sans-serif" font-size="23.7" fill="#000">Y</text>
<line x1="1447.81" x2="1447.81" y1="778.4" y2="785.1" stroke="#3c3c3c" stroke-width="1.9"/>
<text x="1447.81" y="809.6" text-anchor="middle" font-family="Liberation Sans, sans-serif" font-size="23.7" fill="#000">R</text>
</g>
<g>
<line x1="124.24" x2="558.1" y1="1118.81" y2="1118.81" stroke="#f0f0f0" stroke-width="1.1"/>
<line x1="124.24" x2="558.1" y1="1049.39" y2="1049.39" stroke="#f0f0f0" stroke-width="1.1"/>
<line x1="124.24" x2="558.1" y1="979.99" y2="979.99" stroke="#f0f0f0" stroke-width="1.1"/>
<line x1="124.24" x2="558.1" y1="910.58" y2="910.58" stroke="#f0f0f0" stroke-width="1.1"/>
<line x1="124.24" x2="558.1" y1="1153.51" y2="1153.51" stroke="#eaeaea" stroke-width="1.8"/>
<line x1="124.24" x2="558.1" y1="1084.1" y2="1084.1" stroke="#eaeaea" stroke-width="1.8"/>
<line x1="124.24" x2="558.1" y1="1014.69" y2="1014.69" stroke="#eaeaea" stroke-width="1.8"/>
<line x1="124.24" x2="558.1" y1="945.28" y2="945.28" stroke="#eaeaea" stroke-width="1.8"/>
<line x1="124.24" x2="558.1" y1="875.87" y2="875.87" stroke="#eaeaea" stroke-width="1.8"/>
<line x1="205.59" x2="205.59" y1="861.8" y2="1166.1" stroke="#eaeaea" stroke-width="1.8"/>
<line x1="341.17" x2="341.17" y1="861.8" y2="1166.1" stroke="#eaeaea" stroke-width="1.8"/>
<line x1="476.75" x2="476.75" y1="861.8" y2="1166.1" stroke="#eaeaea" stroke-width="1.8"/>
<path d="M205.59 1039.33 L341.17 1068.42 L476.75 936.32 M205.59 1038.38 L341.17 1069.15 L476.75 936.54 M205.59 1037.42 L341.17 1069.88 L476.75 936.76 M205.59 1036.47 L341.17 1070.6 L476.75 937 M205.59 1035.5 L341.17 1071.31 L476.75 937.25 M205.59 1034.54 L341.17 1072.01 L476.75 937.52 M205.59 1033.57 L341.17 1072.71 L476.75 937.79 M205.59 1032.6 L341.17 1073.39 L476.75 938.08 M205.59 1064.8 L341.17 1043.8 L476.75 935.46 M205.59 1064.05 L341.17 1044.7 L476.75 935.32 M205.59 1063.28 L341.17 1045.59 L476.75 935.2 M205.59 1062.51 L341.17 1046.48 L476.75 935.08 M205.59 1061.73 L341.17 1047.37 L476.75 934.97 M205.59 1060.95 L341.17 1048.25 L476.75 934.88 M205.59 1060.15 L341.17 1049.12 L476.75 934.8 M205.59 1059.36 L341.17 1049.99 L476.75 934.72 M205.59 1058.55 L341.17 1050.85 L476.75 934.67 M205.59 1057.74 L341.17 1051.71 L476.75 934.62 M205.59 1056.92 L341.17 1052.57 L476.75 934.58 M205.59 1056.1 L341.17 1053.42 L476.75 934.56 M205.59 1055.27 L341.17 1054.26 L476.75 934.54 M205.59 1054.43 L341.17 1055.1 L476.75 934.54 M205.59 1053.59 L341.17 1055.93 L476.75 934.55 M205.59 1052.74 L341.17 1056.75 L476.75 934.58 M205.59 1051.89 L341.17 1057.57 L476.75 934.61 M205.59 1051.03 L341.17 1058.38 L476.75 934.65 M205.59 1050.17 L341.17 1059.19 L476.75 934.71 M205.59 1049.3 L341.17 1059.99 L476.75 934.78 M205.59 1048.43 L341.17 1060.78 L476.75 934.86 M205.59 1047.55 L341.17 1061.57 L476.75 934.95 M205.59 1046.66 L341.17 1062.35 L476.75 935.06 M205.59 1045.78 L341.17 1063.12 L476.75 935.17 M205.59 1044.88 L341.17 1063.89 L476.75 935.3" fill="none" stroke="#2E9BFF" stroke-width="2.5" stroke-linejoin="miter"/>
<path d="M205.59 1053.77 L341.17 1053.98 L476.75 935.63" fill="none" stroke="#000" stroke-width="3.4" stroke-linejoin="miter"/>
<rect x="124.24" y="825.1" width="433.86" height="36.7" fill="#d9d9d9" stroke="#6a6a6a" stroke-width="1.8"/>
<rect x="124.24" y="861.8" width="433.86" height="304.3" fill="none" stroke="#6a6a6a" stroke-width="1.8"/>
<line x1="123.54" x2="558.8" y1="861.8" y2="861.8" stroke="#3a3a3a" stroke-width="2.2"/>
<text x="341.17" y="849.6" text-anchor="middle" font-family="Liberation Sans, sans-serif" font-size="19.1" fill="#1a1a1a">Cluster7, 38 metabolites</text>
<line x1="117.54" x2="124.24" y1="1153.51" y2="1153.51" stroke="#3c3c3c" stroke-width="1.9"/>
<text x="112.74" y="1162.51" text-anchor="end" font-family="Liberation Sans, sans-serif" font-size="23.7" fill="#000">−2</text>
<line x1="117.54" x2="124.24" y1="1084.1" y2="1084.1" stroke="#3c3c3c" stroke-width="1.9"/>
<text x="112.74" y="1093.1" text-anchor="end" font-family="Liberation Sans, sans-serif" font-size="23.7" fill="#000">−1</text>
<line x1="117.54" x2="124.24" y1="1014.69" y2="1014.69" stroke="#3c3c3c" stroke-width="1.9"/>
<text x="112.74" y="1023.69" text-anchor="end" font-family="Liberation Sans, sans-serif" font-size="23.7" fill="#000">0</text>
<line x1="117.54" x2="124.24" y1="945.28" y2="945.28" stroke="#3c3c3c" stroke-width="1.9"/>
<text x="112.74" y="954.28" text-anchor="end" font-family="Liberation Sans, sans-serif" font-size="23.7" fill="#000">1</text>
<line x1="117.54" x2="124.24" y1="875.87" y2="875.87" stroke="#3c3c3c" stroke-width="1.9"/>
<text x="112.74" y="884.87" text-anchor="end" font-family="Liberation Sans, sans-serif" font-size="23.7" fill="#000">2</text>
<line x1="205.59" x2="205.59" y1="1166.1" y2="1172.8" stroke="#3c3c3c" stroke-width="1.9"/>
<text x="205.59" y="1197.3" text-anchor="middle" font-family="Liberation Sans, sans-serif" font-size="23.7" fill="#000">W</text>
<line x1="341.17" x2="341.17" y1="1166.1" y2="1172.8" stroke="#3c3c3c" stroke-width="1.9"/>
<text x="341.17" y="1197.3" text-anchor="middle" font-family="Liberation Sans, sans-serif" font-size="23.7" fill="#000">Y</text>
<line x1="476.75" x2="476.75" y1="1166.1" y2="1172.8" stroke="#3c3c3c" stroke-width="1.9"/>
<text x="476.75" y="1197.3" text-anchor="middle" font-family="Liberation Sans, sans-serif" font-size="23.7" fill="#000">R</text>
</g>
<g>
<line x1="610.2" x2="1043.4" y1="1118.81" y2="1118.81" stroke="#f0f0f0" stroke-width="1.1"/>
<line x1="610.2" x2="1043.4" y1="1049.39" y2="1049.39" stroke="#f0f0f0" stroke-width="1.1"/>
<line x1="610.2" x2="1043.4" y1="979.99" y2="979.99" stroke="#f0f0f0" stroke-width="1.1"/>
<line x1="610.2" x2="1043.4" y1="910.58" y2="910.58" stroke="#f0f0f0" stroke-width="1.1"/>
<line x1="610.2" x2="1043.4" y1="1153.51" y2="1153.51" stroke="#eaeaea" stroke-width="1.8"/>
<line x1="610.2" x2="1043.4" y1="1084.1" y2="1084.1" stroke="#eaeaea" stroke-width="1.8"/>
<line x1="610.2" x2="1043.4" y1="1014.69" y2="1014.69" stroke="#eaeaea" stroke-width="1.8"/>
<line x1="610.2" x2="1043.4" y1="945.28" y2="945.28" stroke="#eaeaea" stroke-width="1.8"/>
<line x1="610.2" x2="1043.4" y1="875.87" y2="875.87" stroke="#eaeaea" stroke-width="1.8"/>
<line x1="691.43" x2="691.43" y1="861.8" y2="1166.1" stroke="#eaeaea" stroke-width="1.8"/>
<line x1="826.8" x2="826.8" y1="861.8" y2="1166.1" stroke="#eaeaea" stroke-width="1.8"/>
<line x1="962.17" x2="962.17" y1="861.8" y2="1166.1" stroke="#eaeaea" stroke-width="1.8"/>
<path d="M691.43 973.04 L826.8 976.21 L962.17 1094.82 M691.43 973.88 L826.8 975.35 L962.17 1094.83 M691.43 974.73 L826.8 974.5 L962.17 1094.84 M691.43 975.58 L826.8 973.66 L962.17 1094.83 M691.43 976.44 L826.8 972.82 L962.17 1094.81 M691.43 977.31 L826.8 971.98 L962.17 1094.78 M691.43 978.18 L826.8 971.16 L962.17 1094.74 M691.43 979.05 L826.8 970.34 L962.17 1094.68 M691.43 979.93 L826.8 969.52 L962.17 1094.61 M691.43 980.82 L826.8 968.72 L962.17 1094.53 M691.43 981.71 L826.8 967.92 L962.17 1094.44 M691.43 982.61 L826.8 967.12 L962.17 1094.34 M691.43 983.51 L826.8 966.34 L962.17 1094.22 M691.43 984.41 L826.8 965.56 L962.17 1094.1 M691.43 985.33 L826.8 964.79 L962.17 1093.96 M691.43 986.24 L826.8 964.03 L962.17 1093.8 M691.43 987.16 L826.8 963.27 L962.17 1093.64 M691.43 988.08 L826.8 962.52 L962.17 1093.47 M691.43 989.01 L826.8 961.78 L962.17 1093.28 M691.43 993.17 L826.8 958.59 L962.17 1092.31 M691.43 994.09 L826.8 957.91 L962.17 1092.07 M691.43 995.01 L826.8 957.25 L962.17 1091.82 M691.43 995.93 L826.8 956.59 L962.17 1091.55 M691.43 996.85 L826.8 955.94 L962.17 1091.28 M691.43 997.78 L826.8 955.3 L962.17 1090.99 M691.43 998.7 L826.8 954.67 L962.17 1090.7 M691.43 999.63 L826.8 954.04 L962.17 1090.39 M691.43 1000.57 L826.8 953.43 L962.17 1090.08 M691.43 1001.5 L826.8 952.82 L962.17 1089.75 M691.43 1006.36 L826.8 949.82 L962.17 1087.89 M691.43 1007.33 L826.8 949.25 L962.17 1087.49 M691.43 1008.3 L826.8 948.7 L962.17 1087.08 M691.43 1009.27 L826.8 948.15 L962.17 1086.65 M691.43 1010.24 L826.8 947.61 L962.17 1086.22 M691.43 1011.21 L826.8 947.09 L962.17 1085.78 M691.43 1012.18 L826.8 946.57 L962.17 1085.32 M691.43 1013.15 L826.8 946.06 L962.17 1084.86 M691.43 1014.12 L826.8 945.57 L962.17 1084.38 M691.43 1015.09 L826.8 945.08 L962.17 1083.9 M691.43 1016.06 L826.8 944.6 L962.17 1083.4 M691.43 1017.04 L826.8 944.14 L962.17 1082.9 M691.43 1018.01 L826.8 943.68 L962.17 1082.38 M691.43 1018.98 L826.8 943.24 L962.17 1081.86 M691.43 1019.95 L826.8 942.8 L962.17 1081.32 M691.43 1020.92 L826.8 942.38 L962.17 1080.78 M691.43 1021.89 L826.8 941.96 L962.17 1080.22 M691.43 1022.85 L826.8 941.56 L962.17 1079.66 M691.43 1023.82 L826.8 941.17 L962.17 1079.08 M691.43 1024.78 L826.8 940.79 L962.17 1078.5 M691.43 1025.75 L826.8 940.41 L962.17 1077.91 M691.43 1026.71 L826.8 940.06 L962.17 1077.31 M691.43 1027.67 L826.8 939.71 L962.17 1076.69" fill="none" stroke="#CE78FB" stroke-width="2.5" stroke-linejoin="miter"/>
<path d="M691.43 999.28 L826.8 955.55 L962.17 1086.88" fill="none" stroke="#000" stroke-width="3.4" stroke-linejoin="miter"/>
<rect x="610.2" y="825.1" width="433.2" height="36.7" fill="#d9d9d9" stroke="#6a6a6a" stroke-width="1.8"/>
<rect x="610.2" y="861.8" width="433.2" height="304.3" fill="none" stroke="#6a6a6a" stroke-width="1.8"/>
<line x1="609.5" x2="1044.1" y1="861.8" y2="861.8" stroke="#3a3a3a" stroke-width="2.2"/>
<text x="826.8" y="849.6" text-anchor="middle" font-family="Liberation Sans, sans-serif" font-size="19.1" fill="#1a1a1a">Cluster8, 22 metabolites</text>
<line x1="603.5" x2="610.2" y1="1153.51" y2="1153.51" stroke="#3c3c3c" stroke-width="1.9"/>
<text x="598.7" y="1162.51" text-anchor="end" font-family="Liberation Sans, sans-serif" font-size="23.7" fill="#000">−2</text>
<line x1="603.5" x2="610.2" y1="1084.1" y2="1084.1" stroke="#3c3c3c" stroke-width="1.9"/>
<text x="598.7" y="1093.1" text-anchor="end" font-family="Liberation Sans, sans-serif" font-size="23.7" fill="#000">−1</text>
<line x1="603.5" x2="610.2" y1="1014.69" y2="1014.69" stroke="#3c3c3c" stroke-width="1.9"/>
<text x="598.7" y="1023.69" text-anchor="end" font-family="Liberation Sans, sans-serif" font-size="23.7" fill="#000">0</text>
<line x1="603.5" x2="610.2" y1="945.28" y2="945.28" stroke="#3c3c3c" stroke-width="1.9"/>
<text x="598.7" y="954.28" text-anchor="end" font-family="Liberation Sans, sans-serif" font-size="23.7" fill="#000">1</text>
<line x1="603.5" x2="610.2" y1="875.87" y2="875.87" stroke="#3c3c3c" stroke-width="1.9"/>
<text x="598.7" y="884.87" text-anchor="end" font-family="Liberation Sans, sans-serif" font-size="23.7" fill="#000">2</text>
<line x1="691.43" x2="691.43" y1="1166.1" y2="1172.8" stroke="#3c3c3c" stroke-width="1.9"/>
<text x="691.43" y="1197.3" text-anchor="middle" font-family="Liberation Sans, sans-serif" font-size="23.7" fill="#000">W</text>
<line x1="826.8" x2="826.8" y1="1166.1" y2="1172.8" stroke="#3c3c3c" stroke-width="1.9"/>
<text x="826.8" y="1197.3" text-anchor="middle" font-family="Liberation Sans, sans-serif" font-size="23.7" fill="#000">Y</text>
<line x1="962.17" x2="962.17" y1="1166.1" y2="1172.8" stroke="#3c3c3c" stroke-width="1.9"/>
<text x="962.17" y="1197.3" text-anchor="middle" font-family="Liberation Sans, sans-serif" font-size="23.7" fill="#000">R</text>
</g>
<g>
<line x1="1095.55" x2="1529.1" y1="1118.81" y2="1118.81" stroke="#f0f0f0" stroke-width="1.1"/>
<line x1="1095.55" x2="1529.1" y1="1049.39" y2="1049.39" stroke="#f0f0f0" stroke-width="1.1"/>
<line x1="1095.55" x2="1529.1" y1="979.99" y2="979.99" stroke="#f0f0f0" stroke-width="1.1"/>
<line x1="1095.55" x2="1529.1" y1="910.58" y2="910.58" stroke="#f0f0f0" stroke-width="1.1"/>
<line x1="1095.55" x2="1529.1" y1="1153.51" y2="1153.51" stroke="#eaeaea" stroke-width="1.8"/>
<line x1="1095.55" x2="1529.1" y1="1084.1" y2="1084.1" stroke="#eaeaea" stroke-width="1.8"/>
<line x1="1095.55" x2="1529.1" y1="1014.69" y2="1014.69" stroke="#eaeaea" stroke-width="1.8"/>
<line x1="1095.55" x2="1529.1" y1="945.28" y2="945.28" stroke="#eaeaea" stroke-width="1.8"/>
<line x1="1095.55" x2="1529.1" y1="875.87" y2="875.87" stroke="#eaeaea" stroke-width="1.8"/>
<line x1="1176.84" x2="1176.84" y1="861.8" y2="1166.1" stroke="#eaeaea" stroke-width="1.8"/>
<line x1="1312.33" x2="1312.33" y1="861.8" y2="1166.1" stroke="#eaeaea" stroke-width="1.8"/>
<line x1="1447.81" x2="1447.81" y1="861.8" y2="1166.1" stroke="#eaeaea" stroke-width="1.8"/>
<path d="M1176.84 1079.59 L1312.33 942.5 L1447.81 1020.59 M1176.84 1078.85 L1312.33 942.52 L1447.81 1021.31 M1176.84 1078.11 L1312.33 942.54 L1447.81 1022.03 M1176.84 1077.38 L1312.33 942.56 L1447.81 1022.75 M1176.84 1076.64 L1312.33 942.57 L1447.81 1023.47 M1176.84 1075.9 L1312.33 942.59 L1447.81 1024.19 M1176.84 1075.16 L1312.33 942.61 L1447.81 1024.91 M1176.84 1074.43 L1312.33 942.63 L1447.81 1025.63 M1176.84 1073.69 L1312.33 942.64 L1447.81 1026.35 M1176.84 1070.22 L1312.33 939.73 L1447.81 1033.22 M1176.84 1063.97 L1312.33 937.3 L1447.81 1041.41 M1176.84 1063.21 L1312.33 937.28 L1447.81 1042.18 M1176.84 1062.45 L1312.33 937.27 L1447.81 1042.96 M1176.84 1061.7 L1312.33 937.26 L1447.81 1043.73 M1176.84 1060.94 L1312.33 937.25 L1447.81 1044.5 M1176.84 1060.18 L1312.33 937.23 L1447.81 1045.27 M1176.84 1059.42 L1312.33 937.22 L1447.81 1046.04 M1176.84 1058.66 L1312.33 937.21 L1447.81 1046.81 M1176.84 1057.9 L1312.33 937.2 L1447.81 1047.58 M1176.84 1057.15 L1312.33 937.18 L1447.81 1048.35 M1176.84 1056.39 L1312.33 937.17 L1447.81 1049.13 M1176.84 1055.63 L1312.33 937.16 L1447.81 1049.9 M1176.84 1054.87 L1312.33 937.14 L1447.81 1050.67 M1176.84 1054.11 L1312.33 937.13 L1447.81 1051.44 M1176.84 1053.35 L1312.33 937.12 L1447.81 1052.21 M1176.84 1052.6 L1312.33 937.11 L1447.81 1052.98 M1176.84 1051.84 L1312.33 937.09 L1447.81 1053.75 M1176.84 1051.08 L1312.33 937.08 L1447.81 1054.52 M1176.84 1050.32 L1312.33 937.07 L1447.81 1055.29 M1176.84 1049.56 L1312.33 937.05 L1447.81 1056.07 M1176.84 1048.8 L1312.33 937.04 L1447.81 1056.84 M1176.84 1048.05 L1312.33 937.03 L1447.81 1057.61 M1176.84 1047.29 L1312.33 937.02 L1447.81 1058.38 M1176.84 1046.53 L1312.33 937 L1447.81 1059.15 M1176.84 1045.77 L1312.33 936.99 L1447.81 1059.92 M1176.84 1045.01 L1312.33 936.98 L1447.81 1060.69 M1176.84 1044.25 L1312.33 936.96 L1447.81 1061.46 M1176.84 1043.5 L1312.33 936.95 L1447.81 1062.24 M1176.84 1039.68 L1312.33 938.69 L1447.81 1064.32 M1176.84 1039.01 L1312.33 938.62 L1447.81 1065.06 M1176.84 1038.34 L1312.33 938.55 L1447.81 1065.79 M1176.84 1037.67 L1312.33 938.48 L1447.81 1066.53 M1176.84 1037.01 L1312.33 938.41 L1447.81 1067.27 M1176.84 1036.34 L1312.33 938.34 L1447.81 1068.01 M1176.84 1035.67 L1312.33 938.27 L1447.81 1068.74 M1176.84 1035 L1312.33 938.2 L1447.81 1069.48 M1176.84 1034.33 L1312.33 938.13 L1447.81 1070.22" fill="none" stroke="#FB54C8" stroke-width="2.5" stroke-linejoin="miter"/>
<path d="M1176.84 1054.95 L1312.33 935.56 L1447.81 1051.62" fill="none" stroke="#000" stroke-width="3.4" stroke-linejoin="miter"/>
<rect x="1095.55" y="825.1" width="433.55" height="36.7" fill="#d9d9d9" stroke="#6a6a6a" stroke-width="1.8"/>
<rect x="1095.55" y="861.8" width="433.55" height="304.3" fill="none" stroke="#6a6a6a" stroke-width="1.8"/>
<line x1="1094.85" x2="1529.8" y1="861.8" y2="861.8" stroke="#3a3a3a" stroke-width="2.2"/>
<text x="1312.32" y="849.6" text-anchor="middle" font-family="Liberation Sans, sans-serif" font-size="19.1" fill="#1a1a1a">Cluster9, 30 metabolites</text>
<line x1="1088.85" x2="1095.55" y1="1153.51" y2="1153.51" stroke="#3c3c3c" stroke-width="1.9"/>
<text x="1084.05" y="1162.51" text-anchor="end" font-family="Liberation Sans, sans-serif" font-size="23.7" fill="#000">−2</text>
<line x1="1088.85" x2="1095.55" y1="1084.1" y2="1084.1" stroke="#3c3c3c" stroke-width="1.9"/>
<text x="1084.05" y="1093.1" text-anchor="end" font-family="Liberation Sans, sans-serif" font-size="23.7" fill="#000">−1</text>
<line x1="1088.85" x2="1095.55" y1="1014.69" y2="1014.69" stroke="#3c3c3c" stroke-width="1.9"/>
<text x="1084.05" y="1023.69" text-anchor="end" font-family="Liberation Sans, sans-serif" font-size="23.7" fill="#000">0</text>
<line x1="1088.85" x2="1095.55" y1="945.28" y2="945.28" stroke="#3c3c3c" stroke-width="1.9"/>
<text x="1084.05" y="954.28" text-anchor="end" font-family="Liberation Sans, sans-serif" font-size="23.7" fill="#000">1</text>
<line x1="1088.85" x2="1095.55" y1="875.87" y2="875.87" stroke="#3c3c3c" stroke-width="1.9"/>
<text x="1084.05" y="884.87" text-anchor="end" font-family="Liberation Sans, sans-serif" font-size="23.7" fill="#000">2</text>
<line x1="1176.84" x2="1176.84" y1="1166.1" y2="1172.8" stroke="#3c3c3c" stroke-width="1.9"/>
<text x="1176.84" y="1197.3" text-anchor="middle" font-family="Liberation Sans, sans-serif" font-size="23.7" fill="#000">W</text>
<line x1="1312.33" x2="1312.33" y1="1166.1" y2="1172.8" stroke="#3c3c3c" stroke-width="1.9"/>
<text x="1312.33" y="1197.3" text-anchor="middle" font-family="Liberation Sans, sans-serif" font-size="23.7" fill="#000">Y</text>
<line x1="1447.81" x2="1447.81" y1="1166.1" y2="1172.8" stroke="#3c3c3c" stroke-width="1.9"/>
<text x="1447.81" y="1197.3" text-anchor="middle" font-family="Liberation Sans, sans-serif" font-size="23.7" fill="#000">R</text>
</g>
<text x="4.4" y="36.8" font-family="Liberation Serif, serif" font-weight="bold" font-size="47.6" fill="#000">A</text>
<text x="58.9" y="1494.8" font-family="Liberation Serif, serif" font-weight="bold" font-size="48" fill="#000">B</text>
<line x1="321.4" x2="321.4" y1="1255.95" y2="1912.45" stroke="#111" stroke-width="2.5"/>
<line x1="308.4" x2="321.4" y1="1256.95" y2="1256.95" stroke="#111" stroke-width="2.4"/>
<text x="299.6" y="1264.05" text-anchor="end" font-family="Liberation Serif, serif" font-size="24" fill="#000">15</text>
<line x1="308.4" x2="321.4" y1="1366.03" y2="1366.03" stroke="#111" stroke-width="2.4"/>
<text x="299.6" y="1373.13" text-anchor="end" font-family="Liberation Serif, serif" font-size="24" fill="#000">10</text>
<line x1="308.4" x2="321.4" y1="1475.12" y2="1475.12" stroke="#111" stroke-width="2.4"/>
<text x="299.6" y="1482.21" text-anchor="end" font-family="Liberation Serif, serif" font-size="24" fill="#000">5</text>
<line x1="308.4" x2="321.4" y1="1584.2" y2="1584.2" stroke="#111" stroke-width="2.4"/>
<text x="299.6" y="1591.3" text-anchor="end" font-family="Liberation Serif, serif" font-size="24" fill="#000">0</text>
<line x1="308.4" x2="321.4" y1="1693.29" y2="1693.29" stroke="#111" stroke-width="2.4"/>
<text x="299.6" y="1700.38" text-anchor="end" font-family="Liberation Serif, serif" font-size="24" fill="#000">−5</text>
<line x1="308.4" x2="321.4" y1="1802.37" y2="1802.37" stroke="#111" stroke-width="2.4"/>
<text x="299.6" y="1809.47" text-anchor="end" font-family="Liberation Serif, serif" font-size="24" fill="#000">−10</text>
<line x1="308.4" x2="321.4" y1="1911.45" y2="1911.45" stroke="#111" stroke-width="2.4"/>
<text x="299.6" y="1918.55" text-anchor="end" font-family="Liberation Serif, serif" font-size="24" fill="#000">−15</text>
<line x1="321.4" x2="1220" y1="1583.9" y2="1583.9" stroke="#000" stroke-width="1.25"/>
<path d="M1229 1584.2 L1218 1579.2 L1218 1589.2 Z" fill="#000"/>
<rect x="348.4" y="1431.48" width="108.6" height="152.72" fill="#fe0000" stroke="#000" stroke-width="1.2"/>
<rect x="457" y="1584.2" width="108.6" height="196.35" fill="#1a35ff" stroke="#000" stroke-width="1.2"/>
<text x="402.7" y="1425.28" text-anchor="middle" font-family="Liberation Serif, serif" font-size="22.5" fill="#000">7</text>
<text x="511.3" y="1802.45" text-anchor="middle" font-family="Liberation Serif, serif" font-size="22.5" fill="#000">9</text>
<text x="457.1" y="1947" text-anchor="middle" font-family="Liberation Serif, serif" font-weight="bold" font-size="28.2" fill="#000">W vs Y</text>
<rect x="619.1" y="1475.12" width="108.6" height="109.09" fill="#fe0000" stroke="#000" stroke-width="1.2"/>
<rect x="727.7" y="1584.2" width="108.6" height="239.99" fill="#1a35ff" stroke="#000" stroke-width="1.2"/>
<text x="673.4" y="1468.91" text-anchor="middle" font-family="Liberation Serif, serif" font-size="22.5" fill="#000">5</text>
<text x="782" y="1846.09" text-anchor="middle" font-family="Liberation Serif, serif" font-size="22.5" fill="#000">11</text>
<text x="727.8" y="1947" text-anchor="middle" font-family="Liberation Serif, serif" font-weight="bold" font-size="28.2" fill="#000">W vs R</text>
<rect x="889.8" y="1366.03" width="108.6" height="218.17" fill="#fe0000" stroke="#000" stroke-width="1.2"/>
<rect x="998.4" y="1584.2" width="108.6" height="152.72" fill="#1a35ff" stroke="#000" stroke-width="1.2"/>
<text x="944.1" y="1359.83" text-anchor="middle" font-family="Liberation Serif, serif" font-size="22.5" fill="#000">10</text>
<text x="1052.7" y="1758.82" text-anchor="middle" font-family="Liberation Serif, serif" font-size="22.5" fill="#000">7</text>
<text x="998.5" y="1947" text-anchor="middle" font-family="Liberation Serif, serif" font-weight="bold" font-size="28.2" fill="#000">R vs Y</text>
<rect x="355.7" y="1261.5" width="55" height="36.5" fill="#fe0000"/>
<rect x="530" y="1261.5" width="55.4" height="36.5" fill="#0040c0"/>
<text x="429.2" y="1277.6" font-family="Liberation Serif, serif" font-size="16.8" fill="#000">upregulated</text>
<text x="610.6" y="1278.7" font-family="Liberation Serif, serif" font-size="16.8" fill="#000">downregulated</text>
<text x="727.3" y="1999.6" text-anchor="middle" font-family="Liberation Serif, serif" font-size="34" fill="#000">Group of Comparisons</text>
<text transform="translate(249 1584) rotate(-90)" text-anchor="middle" font-family="Liberation Serif, serif" font-size="28" fill="#000">number of differential metabolites</text>
</svg>
</body></html>
